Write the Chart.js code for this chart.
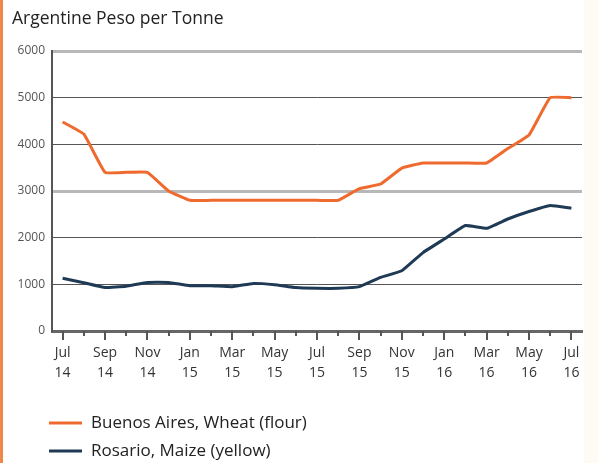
<!DOCTYPE html>
<html>
<head>
<meta charset="utf-8">
<script src="https://cdn.jsdelivr.net/npm/chart.js"></script>
<style>
  body { margin: 0; background: #fff; }
  #wrap { position: relative; width: 598px; height: 463px; }
  #stripe { position: absolute; left: 0; top: 0; width: 3px; height: 463px; background: #f0884a; }
  #edge { position: absolute; right: 0; top: 0; width: 14px; height: 463px; background: #fdfbf4; }
  canvas { position: absolute; left: 0; top: 0; }
</style>
</head>
<body>
<div id="wrap">
  <div id="edge"></div>
  <canvas id="priceChart" width="598" height="463"></canvas>
  <div id="stripe"></div>
</div>
<script>
// months Jul 14 .. Jul 16
const months = ['Jul','Aug','Sep','Oct','Nov','Dec','Jan','Feb','Mar','Apr','May','Jun',
                'Jul','Aug','Sep','Oct','Nov','Dec','Jan','Feb','Mar','Apr','May','Jun','Jul'];
const years = ['14','14','14','14','14','14','15','15','15','15','15','15',
               '15','15','15','15','15','15','16','16','16','16','16','16','16'];

const wheatBA = [4480, 4220, 3400, 3400, 3400, 3000, 2800, 2800, 2800, 2800, 2800, 2800,
                 2800, 2800, 3050, 3150, 3490, 3600, 3600, 3600, 3600, 3910, 4200, 5000, 5000];
const maizeRosario = [1130, 1035, 930, 960, 1040, 1040, 970, 970, 950, 1020, 990, 930,
                      915, 915, 950, 1150, 1290, 1680, 1970, 2260, 2200, 2400, 2560, 2690, 2630];

const seriesNames = ['Buenos Aires, Wheat (flour)', 'Rosario, Maize (yellow)'];
const yTicks = [0, 1000, 2000, 3000, 4000, 5000, 6000];

// label every second month, two lines
const labels = months.map((m, i) => (i % 2 === 0 ? [m, years[i]] : ''));

// tick marks under the x axis, long for labelled months
const tickMarks = {
  id: 'tickMarks',
  afterDraw(chart) {
    const ctx = chart.ctx;
    const xs = chart.scales.x;
    ctx.save();
    ctx.strokeStyle = '#555';
    ctx.lineWidth = 2;
    labels.forEach((lab, i) => {
      const px = Math.round(xs.getPixelForValue(i));
      const len = lab ? 9 : 5;
      ctx.beginPath();
      ctx.moveTo(px, xs.top);
      ctx.lineTo(px, xs.top + len);
      ctx.stroke();
    });
    ctx.restore();
  }
};

// stacked legend at the bottom left
const stackedLegend = {
  id: 'stackedLegend',
  afterDraw(chart) {
    const ctx = chart.ctx;
    const rows = [423, 451];
    ctx.save();
    chart.data.datasets.forEach((ds, i) => {
      const y = rows[i];
      ctx.strokeStyle = ds.borderColor;
      ctx.lineWidth = 3;
      ctx.beginPath();
      ctx.moveTo(49, y);
      ctx.lineTo(82, y);
      ctx.stroke();
      ctx.fillStyle = '#222';
      ctx.font = '17px "Open Sans"';
      ctx.textBaseline = 'middle';
      ctx.fillText(ds.label, 91, y);
    });
    ctx.restore();
  }
};

new Chart(document.getElementById('priceChart'), {
  type: 'line',
  data: {
    labels: labels,
    datasets: [{
      label: seriesNames[0],
      data: wheatBA,
      borderColor: '#ef6a2f',
      borderWidth: 3,
      pointRadius: 0,
      tension: 0.1,
      fill: false
    }, {
      label: seriesNames[1],
      data: maizeRosario,
      borderColor: '#1f3a55',
      borderWidth: 3,
      pointRadius: 0,
      tension: 0.1,
      fill: false
    }]
  },
  options: {
    responsive: false,
    animation: false,
    layout: { padding: { left: 12, right: 16, top: 0, bottom: 0 } },
    plugins: {
      legend: { display: false },
      tooltip: { enabled: false },
      title: {
        display: true,
        text: 'Argentine Peso per Tonne',
        align: 'start',
        color: '#222',
        font: { family: 'Open Sans', size: 17.5, weight: 'normal' },
        padding: { top: 9, bottom: 21 }
      }
    },
    scales: {
      x: {
        offset: true,
        grid: { display: false, drawTicks: false },
        border: { display: true, color: '#666', width: 3 },
        ticks: {
          autoSkip: false,
          maxRotation: 0,
          padding: 12,
          color: '#333',
          font: { family: 'Open Sans', size: 14, lineHeight: 1.45 }
        },
        afterFit: s => { s.height = 132; }
      },
      y: {
        min: 0,
        max: 6000,
        afterBuildTicks: s => { s.ticks = yTicks.map(v => ({ value: v })); },
        grid: {
          drawTicks: false,
          color: c => (c.tick.value === 0 ? 'rgba(0,0,0,0)' :
                       (c.tick.value === 3000 || c.tick.value === 6000) ? '#b8b8b8' : '#555'),
          lineWidth: c => ((c.tick.value === 3000 || c.tick.value === 6000) ? 3 : 1)
        },
        border: { display: true, color: '#555', width: 2 },
        ticks: {
          padding: 7,
          color: '#555',
          font: { family: 'Open Sans', size: 12 },
          callback: v => String(v)
        },
        afterFit: s => { s.width = 40; }
      }
    }
  },
  plugins: [tickMarks, stackedLegend]
});
</script>
</body>
</html>
